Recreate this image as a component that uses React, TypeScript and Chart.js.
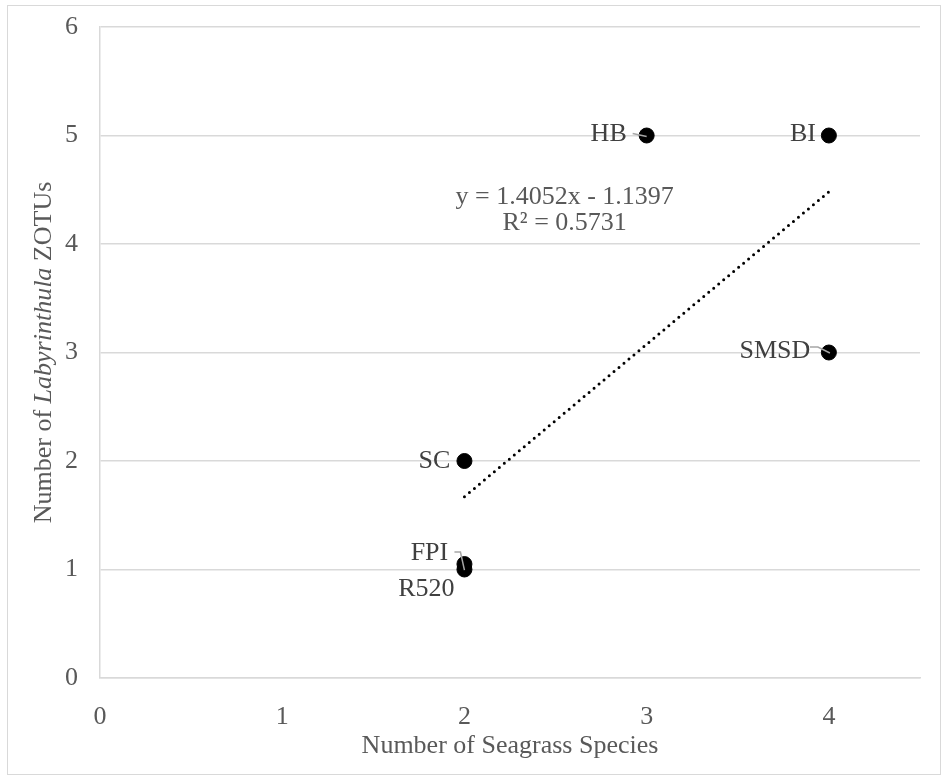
import React, { useEffect, useRef } from "react";
import { Chart, registerables } from "chart.js";

Chart.register(...registerables);

// ---- data ----
const siteNames = ["HB", "BI", "SMSD", "SC", "FPI", "R520"];
const seagrassSpecies = [3, 4, 4, 2, 2, 2];
const labyrinthulaZotus = [5, 5, 3, 2, 1.05, 1];
const trendSlope = 1.4052;
const trendIntercept = -1.1397;
const trendXRange = [2, 4];
const equationLines = ["y = 1.4052x - 1.1397", "R² = 0.5731"];
const xTicks = [0, 1, 2, 3, 4];
const yTicks = [0, 1, 2, 3, 4, 5, 6];

// ---- label layout (pixels relative to point) ----
const labelOffsets: Record<string, [number, number]> = {
  HB: [-38, -1],
  BI: [-26, -1],
  SMSD: [-54, -1],
  SC: [-30, 0],
  FPI: [-35, -11],
  R520: [-38, 20],
};
const leaderLines: Record<string, [number, number][]> = {
  HB: [[-14, -2], [0, 1]],
  SMSD: [[-19, -5.5], [-11, -5.5], [1, 0.5]],
  FPI: [[-10, -12], [-4, -12], [0, 6]],
};

const FONT = "'Liberation Serif', 'Times New Roman', serif";
const FS = 26;

const customPlugin = {
  id: "custom",
  beforeDraw(chart: any) {
    const ctx = chart.ctx;
    ctx.save();
    ctx.fillStyle = "#ffffff";
    ctx.fillRect(0, 0, chart.width, chart.height);
    ctx.strokeStyle = "#d9d9d9";
    ctx.lineWidth = 1;
    ctx.strokeRect(7.5, 5.5, 933, 769);
    ctx.restore();
  },
  afterDatasetsDraw(chart: any) {
    const ctx = chart.ctx;
    const meta = chart.getDatasetMeta(0);
    ctx.save();
    // point labels
    meta.data.forEach((el: any, i: number) => {
      const name = siteNames[i];
      const off = labelOffsets[name] || [0, 0];
      ctx.font = `${FS}px ${FONT}`;
      ctx.fillStyle = "#404040";
      ctx.textAlign = "center";
      ctx.textBaseline = "middle";
      ctx.fillText(name, el.x + off[0], el.y + off[1]);
      const ll = leaderLines[name];
      if (ll) {
        ctx.strokeStyle = "#a6a6a6";
        ctx.lineWidth = 1.5;
        ctx.beginPath();
        ll.forEach((p, j) => {
          if (j === 0) ctx.moveTo(el.x + p[0], el.y + p[1]);
          else ctx.lineTo(el.x + p[0], el.y + p[1]);
        });
        ctx.stroke();
      }
    });
    // equation
    const xs = chart.scales.x;
    const ys = chart.scales.y;
    const ex = xs.getPixelForValue(2.55);
    const ey = ys.getPixelForValue(4.43);
    ctx.font = `${FS}px ${FONT}`;
    ctx.fillStyle = "#595959";
    ctx.textAlign = "center";
    ctx.textBaseline = "middle";
    equationLines.forEach((t, i) => ctx.fillText(t, ex, ey + i * 26));

    // x axis title
    const area = chart.chartArea;
    ctx.fillText("Number of Seagrass Species", (area.left + area.right) / 2, 746);

    // y axis title (mixed italic)
    const parts: [string, boolean][] = [
      ["Number of ", false],
      ["Labyrinthula", true],
      [" ZOTUs", false],
    ];
    const widths = parts.map(([t, it]) => {
      ctx.font = `${it ? "italic " : ""}${FS}px ${FONT}`;
      return ctx.measureText(t).width;
    });
    const total = widths.reduce((a, b) => a + b, 0);
    ctx.translate(44, (area.top + area.bottom) / 2);
    ctx.rotate(-Math.PI / 2);
    let cx = -total / 2;
    ctx.textAlign = "left";
    parts.forEach(([t, it], i) => {
      ctx.font = `${it ? "italic " : ""}${FS}px ${FONT}`;
      ctx.fillText(t, cx, 0);
      cx += widths[i];
    });
    ctx.restore();
  },
};

export default function App() {
  const ref = useRef<HTMLCanvasElement | null>(null);
  useEffect(() => {
    if (!ref.current) return;
    const points = seagrassSpecies.map((x, i) => ({ x, y: labyrinthulaZotus[i] }));
    const trend = trendXRange.map((x) => ({ x, y: trendSlope * x + trendIntercept }));
    const chart = new Chart(ref.current, {
      type: "scatter",
      data: {
        datasets: [
          {
            label: "Sites",
            data: points,
            backgroundColor: "#000000",
            borderColor: "#000000",
            pointRadius: 7.5,
            pointHoverRadius: 7.5,
            order: 1,
          },
          {
            type: "line",
            label: "Trend",
            data: trend,
            borderColor: "#000000",
            borderWidth: 3,
            borderDash: [0, 6.5],
            borderCapStyle: "round",
            pointRadius: 0,
            fill: false,
            order: 2,
          } as any,
        ],
      },
      options: {
        animation: false,
        responsive: false,
        maintainAspectRatio: false,
        events: [],
        layout: { padding: { top: 27, right: 23, left: 0, bottom: 0 } },
        plugins: { legend: { display: false }, tooltip: { enabled: false } },
        scales: {
          x: {
            type: "linear",
            min: 0,
            max: 4.5,
            grid: { display: false },
            border: { display: true, color: "#d9d9d9", width: 1.5 },
            afterBuildTicks: (s: any) => {
              s.ticks = xTicks.map((v) => ({ value: v }));
            },
            afterFit: (s: any) => {
              s.height = 99;
              s.paddingLeft = 0;
              s.paddingRight = 0;
            },
            ticks: {
              font: { family: FONT, size: FS },
              color: "#595959",
              padding: 16,
            },
          },
          y: {
            type: "linear",
            min: 0,
            max: 6,
            grid: { color: "#d9d9d9", lineWidth: 1.5, drawTicks: false },
            border: { display: true, color: "#d9d9d9", width: 1.5 },
            afterBuildTicks: (s: any) => {
              s.ticks = yTicks.map((v) => ({ value: v }));
            },
            afterFit: (s: any) => {
              s.width = 100;
              s.paddingTop = 0;
              s.paddingBottom = 0;
            },
            ticks: {
              font: { family: FONT, size: FS },
              color: "#595959",
              padding: 22,
            },
          },
        },
      },
      plugins: [customPlugin],
    });
    return () => chart.destroy();
  }, []);
  return (
    <div style={{ position: "absolute", left: 0, top: 0, width: 943, height: 777 }}>
      <canvas ref={ref} width={943} height={777} style={{ width: 943, height: 777 }} />
    </div>
  );
}
